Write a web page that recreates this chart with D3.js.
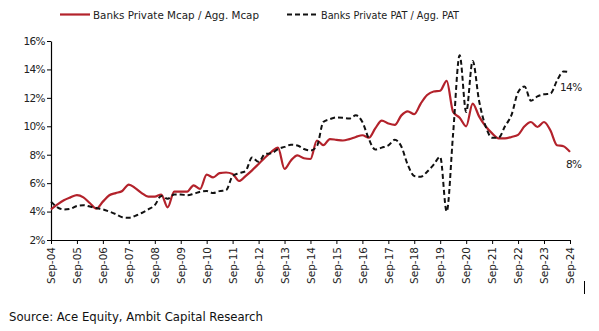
<!DOCTYPE html>
<html>
<head>
<meta charset="utf-8">
<script src="https://cdn.jsdelivr.net/npm/d3@7"></script>
<style>
  html, body { margin: 0; padding: 0; background: #fff; }
  svg { display: block; }
  text { font-family: "DejaVu Sans", sans-serif; }
</style>
</head>
<body>
<svg id="chart" width="599" height="331"></svg>
<script>
// Quarter-end dates: Sep-04 .. Sep-24 (81 quarters)
const startYear = 2004;
const quarterCount = 81;

// Banks Private Mcap / Agg. Mcap (%)
const mcapShare = [
  4.15, 4.5, 4.8, 5.0, 5.16, 5.0, 4.6, 4.2, 4.7, 5.15,
  5.3, 5.45, 5.9, 5.65, 5.3, 5.05, 5.05, 5.2, 4.3, 5.4,
  5.4, 5.4, 5.85, 5.6, 6.6, 6.4, 6.7, 6.75, 6.65, 6.15,
  6.5, 6.9, 7.35, 7.8, 8.2, 8.5, 7.0, 7.6, 7.95, 7.75,
  7.7, 9.0, 8.67, 9.1, 9.05, 9.0, 9.1, 9.25, 9.37, 9.2,
  9.85, 10.4, 10.2, 10.1, 10.75, 11.05, 10.85, 11.6, 12.2, 12.45,
  12.5, 13.2, 11.0, 10.6, 10.0, 11.6, 10.7, 10.0, 9.5, 9.15,
  9.15, 9.25, 9.4, 10.0, 10.3, 9.95, 10.3, 9.7, 8.67, 8.6,
  8.2
];

// Banks Private PAT / Agg. PAT (%)
const patShare = [
  4.7, 4.3, 4.15, 4.2, 4.4, 4.45, 4.35, 4.25, 4.15, 4.0,
  3.82, 3.6, 3.56, 3.7, 3.9, 4.15, 4.45, 5.1, 4.9, 5.2,
  5.2, 5.15, 5.25, 5.4, 5.45, 5.3, 5.44, 5.5, 6.5, 6.7,
  6.85, 7.8, 7.5, 8.05, 8.1, 8.4, 8.55, 8.7, 8.65, 8.4,
  8.3, 8.6, 10.3, 10.5, 10.62, 10.6, 10.55, 10.77, 10.3, 9.1,
  8.36, 8.5, 8.65, 9.05, 8.6, 7.3, 6.5, 6.45, 6.8, 7.3,
  7.85, 4.0, 9.5, 15.0, 11.0, 14.6, 11.8, 10.0, 9.2, 9.2,
  10.0, 10.8, 12.4, 12.8, 11.8, 12.1, 12.25, 12.3, 13.2, 13.85,
  13.8
];

const yTicks = [2, 4, 6, 8, 10, 12, 14, 16];
const xTickLabels = ["Sep-04","Sep-05","Sep-06","Sep-07","Sep-08","Sep-09","Sep-10",
  "Sep-11","Sep-12","Sep-13","Sep-14","Sep-15","Sep-16","Sep-17","Sep-18","Sep-19",
  "Sep-20","Sep-21","Sep-22","Sep-23","Sep-24"];
const seriesNames = ["Banks Private Mcap / Agg. Mcap", "Banks Private PAT / Agg. PAT"];
const endLabels = ["8%", "14%"];
const sourceText = "Source: Ace Equity, Ambit Capital Research";

const dates = d3.range(quarterCount).map(i => new Date(startYear, 8 + i * 3, 30));
const yearTicks = xTickLabels.map((_, i) => new Date(startYear + i, 8, 30));

const svg = d3.select("#chart");
const plotLeft = 51, plotRight = 570, plotTop = 41, plotBottom = 240;

const x = d3.scaleTime().domain([dates[0], dates[dates.length - 1]]).range([plotLeft, plotRight]);
const y = d3.scaleLinear().domain([2, 16]).range([plotBottom, plotTop]);

// Y axis
const yAxis = svg.append("g")
  .attr("transform", `translate(${plotLeft},0)`)
  .call(d3.axisLeft(y).tickValues(yTicks).tickSize(4).tickSizeOuter(0).tickFormat(d => d + "%"));
yAxis.select(".domain").attr("stroke", "#000").attr("stroke-width", 1.2);
yAxis.selectAll(".tick line").attr("stroke", "#000");
yAxis.selectAll(".tick text").attr("font-size", 10.5).attr("fill", "#222")
  .attr("font-family", "DejaVu Sans").attr("x", -6).attr("letter-spacing", -0.6);

// X axis
const xAxis = svg.append("g")
  .attr("transform", `translate(0,${plotBottom})`)
  .call(d3.axisBottom(x).tickValues(yearTicks).tickSize(4).tickSizeOuter(0)
    .tickFormat((d, i) => xTickLabels[i]));
xAxis.select(".domain").attr("stroke", "#000").attr("stroke-width", 1.2);
xAxis.selectAll(".tick line").attr("stroke", "#000");
xAxis.selectAll(".tick text")
  .attr("font-size", 10.5).attr("fill", "#222").attr("font-family", "DejaVu Sans")
  .attr("text-anchor", "end")
  .attr("transform", "rotate(-90)")
  .attr("x", -7).attr("y", 0).attr("dy", "0.35em");

// Lines
const line = d3.line()
  .x((d, i) => x(dates[i]))
  .y(d => y(d))
  .curve(d3.curveMonotoneX);

svg.append("path").datum(mcapShare)
  .attr("fill", "none").attr("stroke", "#B3222B").attr("stroke-width", 2.2)
  .attr("stroke-linejoin", "round")
  .attr("d", line);

svg.append("path").datum(patShare)
  .attr("fill", "none").attr("stroke", "#111").attr("stroke-width", 2)
  .attr("stroke-dasharray", "5,3")
  .attr("d", line);

// End labels
const lastIdx = quarterCount - 1;
svg.append("text").attr("x", x(dates[lastIdx]) - 4).attr("y", y(mcapShare[lastIdx]) + 16)
  .attr("font-size", 10.5).attr("fill", "#222").attr("letter-spacing", -0.6).text(endLabels[0]);
svg.append("text").attr("x", x(dates[lastIdx]) - 10).attr("y", y(patShare[lastIdx]) + 19)
  .attr("font-size", 10.5).attr("fill", "#222").attr("letter-spacing", -0.6).text(endLabels[1]);

// Legend
const legend = svg.append("g");
legend.append("line").attr("x1", 60).attr("x2", 90).attr("y1", 14.5).attr("y2", 14.5)
  .attr("stroke", "#B3222B").attr("stroke-width", 2.2);
legend.append("text").attr("x", 93).attr("y", 18.5).attr("font-size", 10.5).attr("fill", "#222")
  .attr("textLength", 166).attr("lengthAdjust", "spacingAndGlyphs")
  .text(seriesNames[0]);
legend.append("line").attr("x1", 287).attr("x2", 318).attr("y1", 14.5).attr("y2", 14.5)
  .attr("stroke", "#111").attr("stroke-width", 2).attr("stroke-dasharray", "5,3");
legend.append("text").attr("x", 321).attr("y", 18.5).attr("font-size", 10.5).attr("fill", "#222")
  .attr("textLength", 138).attr("lengthAdjust", "spacingAndGlyphs")
  .text(seriesNames[1]);

// Stray mark at bottom right
svg.append("line").attr("x1", 584.5).attr("x2", 584.5).attr("y1", 281).attr("y2", 294)
  .attr("stroke", "#000").attr("stroke-width", 1);

// Source
svg.append("text").attr("x", 9).attr("y", 321).attr("font-size", 11.7)
  .attr("font-family", "Liberation Sans, Arial, sans-serif").attr("fill", "#111")
  .text(sourceText);
</script>
</body>
</html>
